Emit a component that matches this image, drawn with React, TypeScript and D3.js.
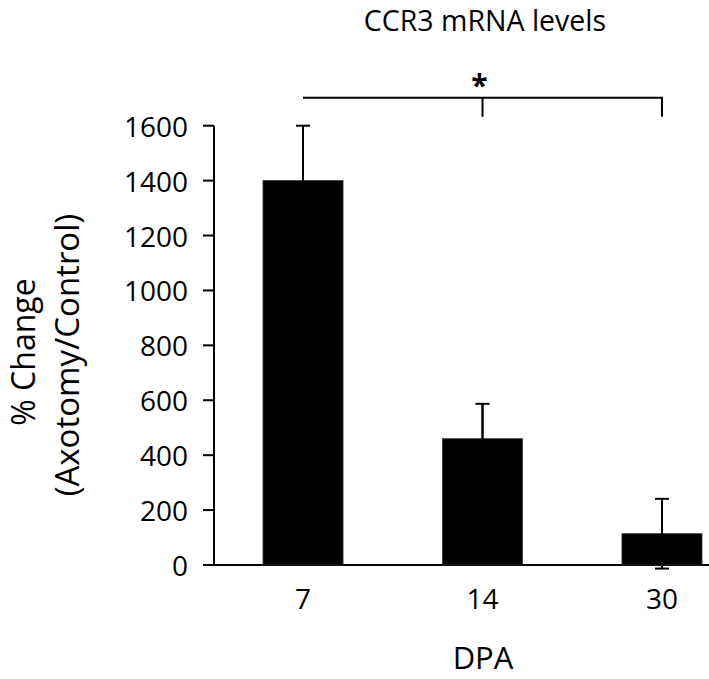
import React from "react";
import * as d3 from "d3";

const categories: string[] = ["7", "14", "30"];
const values: number[] = [1400, 460, 114];
const errors: number[] = [200, 127, 127];
const yTicks: number[] = [0, 200, 400, 600, 800, 1000, 1200, 1400, 1600];
const title = "CCR3 mRNA levels";
const xTitle = "DPA";
const yTitleLines: string[] = ["% Change", "(Axotomy/Control)"];
const sigFrom = "7";
const sigMid = "14";
const sigTo = "30";
const sigLabel = "*";

const W = 709;
const H = 679;
const FONT = "'Open Sans', 'Noto Sans', sans-serif";

export default function App() {
  const x = d3
    .scaleBand<string>()
    .domain(categories)
    .range([214, 751])
    .paddingInner(0.554)
    .paddingOuter(0.273);
  const y = d3.scaleLinear().domain([0, 1600]).range([565, 125.7]);
  const bw = x.bandwidth();
  const cx = (c: string) => (x(c) as number) + bw / 2;
  const capHalf = 7;
  const bracketY = 97.7;

  return (
    <svg
      width={W}
      height={H}
      style={{ position: "absolute", left: 0, top: 0, background: "#fff" }}
      fontFamily={FONT}
    >
      <rect width={W} height={H} fill="#fff" />
      {/* title */}
      <text x={485} y={31} fontSize={28.5} textAnchor="middle" fill="#000">
        {title}
      </text>

      {/* significance bracket */}
      <path
        d={`M${cx(sigFrom)},${bracketY}H${cx(sigTo)}V${bracketY + 19}M${cx(sigMid)},${bracketY}V${bracketY + 19}`}
        fill="none"
        stroke="#000"
        strokeWidth={2}
      />
      <text x={cx(sigMid) - 3} y={96} fontSize={30} fontWeight="bold" textAnchor="middle" fill="#000">
        {sigLabel}
      </text>

      {/* error bars (drawn before bars so lower halves are hidden) */}
      {categories.map((c, i) => {
        const c0 = cx(c);
        const hi = y(values[i] + errors[i]);
        const lo = y(values[i] - errors[i]);
        return (
          <g key={"e" + c} stroke="#000" strokeWidth={2}>
            <line x1={c0} x2={c0} y1={hi} y2={lo} />
            <line x1={c0 - capHalf} x2={c0 + capHalf} y1={hi} y2={hi} />
            <line x1={c0 - capHalf} x2={c0 + capHalf} y1={lo} y2={lo} />
          </g>
        );
      })}

      {/* x axis line */}
      <line x1={213} x2={751} y1={y(0)} y2={y(0)} stroke="#000" strokeWidth={2} />

      {/* bars */}
      {categories.map((c, i) => (
        <rect
          key={"b" + c}
          x={x(c)}
          y={y(values[i])}
          width={bw}
          height={y(0) - y(values[i])}
          fill="#000"
          stroke="#333"
          strokeWidth={0.8}
        />
      ))}
      {/* error bar upper stems over the bars */}
      {categories.map((c, i) => {
        const c0 = cx(c);
        return (
          <line
            key={"s" + c}
            x1={c0}
            x2={c0}
            y1={y(values[i] + errors[i])}
            y2={y(values[i])}
            stroke="#000"
            strokeWidth={2}
          />
        );
      })}

      {/* y axis */}
      <line x1={214} x2={214} y1={y(1600)} y2={y(0)} stroke="#000" strokeWidth={2} />
      {yTicks.map((t) => (
        <g key={"t" + t}>
          <line x1={203} x2={214} y1={y(t)} y2={y(t)} stroke="#000" strokeWidth={2} />
          <text x={188} y={y(t) + 11} fontSize={28} textAnchor="end" fill="#000">
            {t}
          </text>
        </g>
      ))}

      {/* x tick labels */}
      {categories.map((c) => (
        <text key={"x" + c} x={cx(c)} y={609} fontSize={28} textAnchor="middle" fill="#000">
          {c}
        </text>
      ))}

      {/* axis titles */}
      <text x={483} y={669} fontSize={31} textAnchor="middle" fill="#000">
        {xTitle}
      </text>
      <g transform="translate(35,352) rotate(-90)">
        <text x={0} y={0} fontSize={32} textAnchor="middle" fill="#000">
          {yTitleLines[0]}
        </text>
      </g>
      <g transform="translate(79,355) rotate(-90)">
        <text x={0} y={0} fontSize={33} textAnchor="middle" fill="#000">
          {yTitleLines[1]}
        </text>
      </g>
    </svg>
  );
}
